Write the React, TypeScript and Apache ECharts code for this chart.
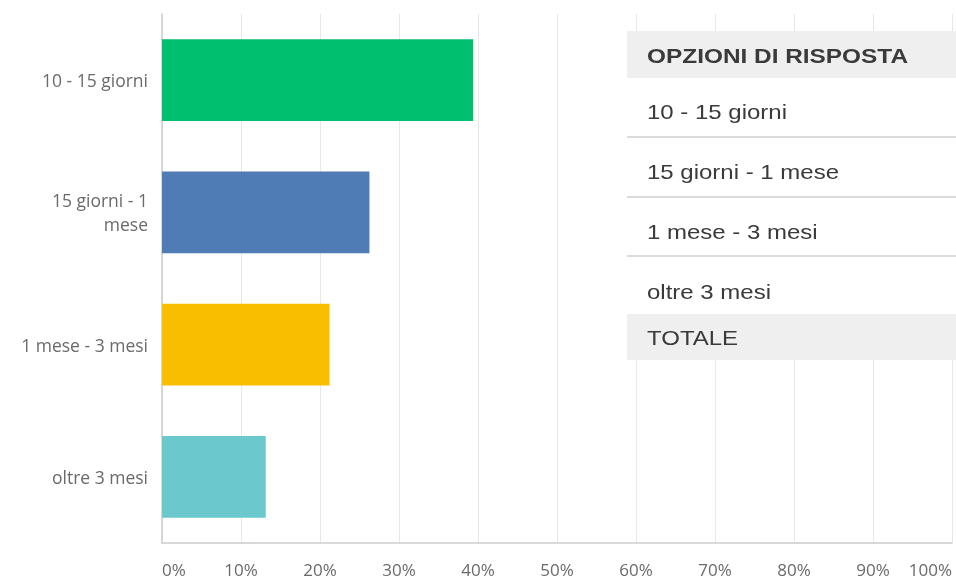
import React, { useEffect, useRef } from "react";
import * as echarts from "echarts";

const categories = ["10 - 15 giorni", "15 giorni - 1\nmese", "1 mese - 3 mesi", "oltre 3 mesi"];
const percentages = [39.39, 26.26, 21.21, 13.13];
const barColors = ["#00BF6F", "#507CB6", "#F9BE00", "#6BC8CD"];
const tableHeader = "OPZIONI DI RISPOSTA";
const tableRows = ["10 - 15 giorni", "15 giorni - 1 mese", "1 mese - 3 mesi", "oltre 3 mesi"];
const tableTotal = "TOTALE";

export default function App() {
  const ref = useRef<HTMLDivElement>(null);
  useEffect(() => {
    if (!ref.current) return;
    const chart = echarts.init(ref.current, undefined, { renderer: "svg" });
    const tx = 647;
    const tableLeft = 627;
    const rowCenters = [112, 172, 232, 292];
    const graphic: any[] = [
      { type: "rect", shape: { x: tableLeft, y: 31, width: 340, height: 329 }, style: { fill: "#ffffff" }, z: 100 },
      { type: "rect", shape: { x: tableLeft, y: 31, width: 340, height: 47 }, style: { fill: "#efefef" }, z: 101 },
      { type: "rect", shape: { x: tableLeft, y: 314, width: 340, height: 46 }, style: { fill: "#efefef" }, z: 101 },
      {
        type: "text", x: tx, y: 56, scaleX: 1.22, z: 102,
        style: { x: 0, y: 0, text: tableHeader, fontFamily: "Liberation Sans, Arial", fontSize: 20, fontWeight: "bold", fill: "#3a3a3a", verticalAlign: "middle" },
      },
      {
        type: "text", x: tx, y: 338, scaleX: 1.2, z: 102,
        style: { x: 0, y: 0, text: tableTotal, fontFamily: "Liberation Sans, Arial", fontSize: 20, fill: "#3a3a3a", verticalAlign: "middle" },
      },
    ];
    tableRows.forEach((r, i) => {
      graphic.push({
        type: "text", x: tx, y: rowCenters[i], scaleX: 1.2, z: 102,
        style: { x: 0, y: 0, text: r, fontFamily: "Liberation Sans, Arial", fontSize: 20, fill: "#3a3a3a", verticalAlign: "middle" },
      });
    });
    [137, 197, 256].forEach((y) => {
      graphic.push({
        type: "line", z: 102,
        shape: { x1: tableLeft, y1: y, x2: 960, y2: y },
        style: { stroke: "#cfcfcf", lineWidth: 1.5 },
      });
    });
    chart.setOption({
      animation: false,
      grid: { left: 162, right: 4, top: 14, bottom: 39, containLabel: false },
      xAxis: {
        type: "value",
        min: 0,
        max: 100,
        interval: 10,
        axisLine: { show: true, lineStyle: { color: "#cccccc", width: 1.5 } },
        axisTick: { show: false },
        splitLine: { show: true, lineStyle: { color: "#e8e8e8", width: 1 } },
        axisLabel: {
          formatter: "{value}%",
          margin: 18,
          color: "#6a6a6a",
          fontSize: 17,
          fontFamily: "Open Sans",
          alignMinLabel: "left",
          alignMaxLabel: "right",
        },
      },
      yAxis: {
        type: "category",
        inverse: true,
        data: categories,
        axisLine: { show: true, lineStyle: { color: "#cccccc", width: 1.5 } },
        axisTick: { show: false },
        axisLabel: {
          margin: 14,
          color: "#6a6a6a",
          fontSize: 17.5,
          fontFamily: "Open Sans",
          lineHeight: 24,
          align: "right",
        },
      },
      series: [
        {
          type: "bar",
          barCategoryGap: "38%",
          data: percentages.map((v, i) => ({ value: v, itemStyle: { color: barColors[i] } })),
        },
      ],
      graphic,
    });
    return () => chart.dispose();
  }, []);
  return <div ref={ref} style={{ position: "fixed", left: 0, top: 0, width: 956, height: 582 }} />;
}
